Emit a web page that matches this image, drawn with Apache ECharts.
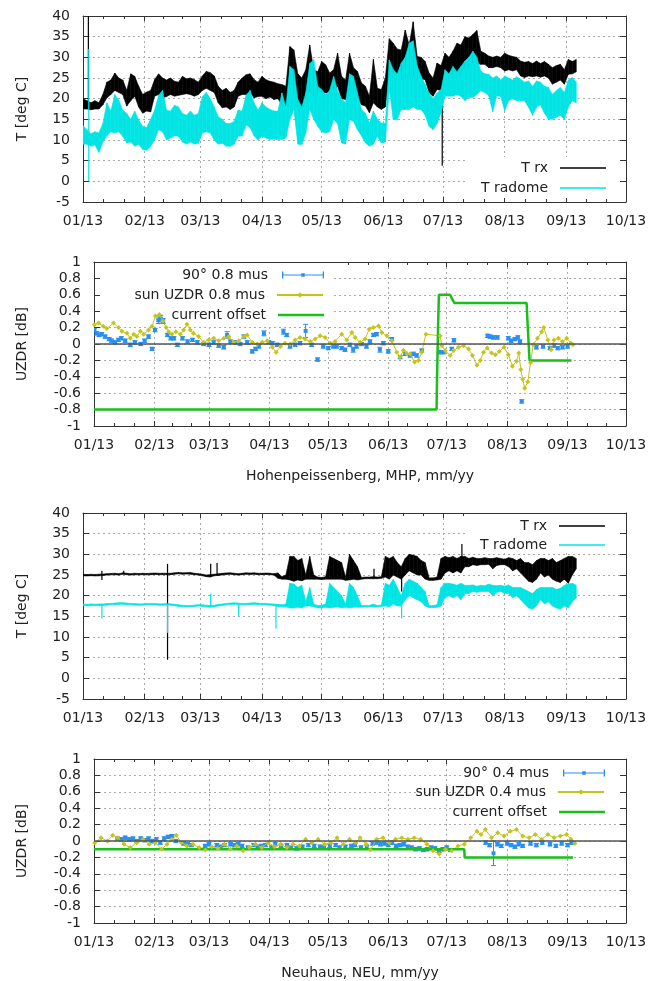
<!DOCTYPE html>
<html><head><meta charset="utf-8">
<script src="https://cdn.jsdelivr.net/npm/echarts@6/dist/echarts.min.js"></script>
<style>html,body{margin:0;padding:0;background:#fff}#c{width:657px;height:981px}</style>
</head><body><div id="c"></div>
<script>
// ---------- data (days since 2013-01-01) ----------
const STEP = 2; // temperature envelope sampled every 2 days: low / high of the diurnal band
// Hohenpeissenberg (MHP)
const mhpRxLo = [17.5,17.5,17.3,17.5,17.5,18.5,20.2,21,22,21.5, 21,18.2,19.5,20.6,18,16.5,17,16.8,20.6,21, 20.2,20.5,21,20.6,20.8,21,21.2,21,20.6,21, 22,22.5,22,21.5,19,17.8,18,17.4,18,20.6, 21,21,21.5,20.2,20.5,20.6,20,20.4,19.8,20, 18.5,18.2,23,21,18,17.5,20.6,22,20.6,21, 21.4,21.4,21.4,22,23,20,19.8,22.2,21,20.2, 18.5,18.2,16.6,19,18,17.4,18,25.4,26.2,26, 24.6,25,25.4,25.5,24.6,24.8,24.6,21.4,20.6,22.2, 22,25.4,25.4,25,24.6,26,27.5,27.5,28.7,28.5, 28.3,28.3,27.5,27.5,27.8,27.5,26.7,27,26.7,27, 25.5,25.1,25.5,25.3,25.5,25.2,25.5,25,23.5,24, 24.5,23.5,25.9,26,26.5];
const mhpRxHi = [20,19.5,19,19.5,19,21,24,24.5,26.2,25, 24.5,22,26,25.4,23,21,21.6,22,24.6,26, 25,24.5,25,24.2,24,25.4,24.8,25,24.6,24, 25.5,26.6,26.3,25.5,23,22,22.5,21.5,22,24, 25,25.8,26,24.6,24,25.4,24.6,24.2,24,23.6, 23.4,23,32.6,31.8,26,25,27,33,27,26.5, 29,28.2,26.2,27,31,25.4,24.5,31,27.5,26.6, 23.8,23,20.6,29.5,22.5,22.2,25,34.5,33.4,32, 31.8,36.6,33,38.6,30.2,30,29,26.2,25,28.6, 28,31,30,31.5,33.4,33,35,34.7,35.5,36.5, 31.5,31,30.3,30,30.3,30,31,30.5,30.2,30, 29.1,28.8,29,28.5,29.1,28.5,29,28.3,27.5,28, 28.3,27,29.5,29,29.5];
const mhpRadLo = [9,9,8.5,8.8,7,9.5,11,12,11.7,12, 10.9,9.3,9.5,8.5,9,7.7,7.5,8.5,10,12.5, 12,10,10.5,11,10.9,9.5,9,9.5,9,9.2, 11.7,12,11.7,10,9,9.2,8.5,8.5,9,10.9, 11,13.6,13,11,10,10.9,10.5,10.1,10.2,10.1, 10.1,10.5,14.9,17.4,9,8.9,11.7,17.4,15,13.3, 12,11.7,12,14.9,14,9.3,9,14.9,14.5,12.5, 11,9.3,8.5,9,10.9,9.3,9.5,22.2,15,14.9, 17.4,17.4,17.4,18,17.4,17.4,16,13.3,12.5,14, 16.6,20.6,20.6,20.6,21,20.6,19.5,20.3,20.3,21, 21.9,21.5,20.7,16.8,20.7,20.5,17.1,19.5,20,19.5, 19.5,19.5,17.9,16,17.9,18.5,16.5,15.1,15,15.5, 16,15,18,19.5,19];
const mhpRadHi = [13.5,12.5,11.5,12,11.7,14,19,17,21,19.6, 17.2,16.4,15,17,14.8,13.3,13,15,17.2,20.8, 22,17.2,17,18.4,18,16.4,16,17,16,16.4, 20.4,21.5,20,18,15.6,15,14,14,14.5,17.2, 17,20.8,22,19,17.2,19,18,17.4,17,17, 21.4,18,27.8,27,19.8,18,21.4,28.5,29.4,23, 22.2,21,22,25.4,22,20,19,26,25.4,21.4, 17.4,16.5,14.1,17,15,14.1,14,29.4,27,26, 28.6,30,33.4,34,28,25.4,23.5,21.4,20,21.4, 22.2,27,26,27.8,26.5,27.8,29.1,30,31.5,30, 26.7,26,25.9,25,25.5,24.5,25.5,25,24.5,25.3, 24.7,24,24.3,23,24.3,24,23,22.7,21,22, 22.7,21.5,24.5,25.1,24];
// single-reading spikes: day, low, high
const mhpRxSpikeDay = [2.7, 180.6], mhpRxSpikeLo = [18, 3.8], mhpRxSpikeHi = [40, 24];
const mhpRadSpikeDay = [2.9], mhpRadSpikeLo = [0], mhpRadSpikeHi = [32];

const mhpBlueDay = [0.2,1.4,2.6,4,5.7,7.8,9,10.8,12.5,14,16,18.6,21,24,26,28,29.8,31.3,33,34.3,35.5,37.7,39.4,41,42.8,45.4,48,50.5,53,56.3,59,61.4,64,66.6,68.3,70,72.5,75,76.9,78.6,81.2,82.9,84.6,87.2,89.7,91.5,94,97.2,98.9,100.6,103.2,105.7,108.6,111.7,114.7,117.6,120.2,122.8,124.5,127.1,128.8,131.3,133,134.7,137.3,139.8,141.6,143.4,145,146.7,148.5,151,152.8,157.1,159.7,162.2,163.9,165.6,168.2,177.6,179.3,183.6,184.7,202,203.3,205,207,212.6,214,216,217.5,218.6,219.5,227,230.4,234,236,238,240.4,243];
const mhpBlueVal = [0.17,0.13,0.11,0.12,0.09,0.06,0.04,0.02,0.05,0.07,0.04,-0.01,0.02,0,0.04,0.09,-0.06,0.17,0.29,0.31,0.28,0.11,0.07,0.07,-0.01,0.07,0.03,0.05,0.02,0,-0.01,0.02,-0.02,-0.04,0.11,0.03,0.02,0,0.09,0.02,-0.09,-0.06,-0.03,0.13,0.02,0.01,-0.01,0.15,0.11,-0.03,-0.01,0.01,0.16,-0.01,-0.19,-0.03,-0.05,-0.03,-0.03,-0.05,-0.07,-0.01,-0.07,-0.03,0,-0.03,0.03,0.11,0.12,-0.07,0.01,-0.09,0.06,-0.16,-0.12,-0.14,-0.12,-0.14,-0.08,-0.1,-0.1,-0.06,0.045,0.1,0.09,0.08,0.08,0.07,0.04,0.06,0.08,0.03,-0.7,-0.04,-0.03,-0.05,-0.02,-0.05,-0.04,-0.03];
const mhpBlueErr = [0.02,0.02,0.02,0.02,0.02,0.02,0.02,0.02,0.02,0.02,0.02,0.02,0.02,0.02,0.02,0.02,0.02,0.02,0.04,0.04,0.03,0.02,0.02,0.02,0.02,0.02,0.02,0.02,0.02,0.02,0.02,0.02,0.02,0.02,0.04,0.02,0.02,0.02,0.02,0.02,0.02,0.02,0.02,0.03,0.02,0.02,0.02,0.03,0.02,0.02,0.02,0.02,0.08,0.02,0.02,0.02,0.02,0.02,0.02,0.02,0.02,0.02,0.03,0.02,0.02,0.02,0.02,0.02,0.02,0.03,0.02,0.02,0.02,0.02,0.02,0.02,0.02,0.02,0.02,0.02,0.02,0.02,0.02,0.02,0.02,0.02,0.02,0.02,0.02,0.02,0.02,0.02,0.02,0.02,0.02,0.02,0.02,0.02,0.02,0.02];

const mhpSunDay = [0.2,2.3,4.8,6.5,10,12.6,14.3,16.9,18.6,20.4,22,23.8,25.5,28,29.8,31.5,33.5,35.3,37,38.3,40,42,44.3,46,47.7,49.4,51,53.7,56.3,58.8,61.4,64,66.6,69.2,71.7,74.3,76.9,78.6,81.2,83.8,86.3,88.9,91.5,93.5,95.7,98,100.6,103.2,105.7,108.3,110.9,113.5,116,118.6,121.2,123.7,127.1,129.7,132.3,134,136.6,139.1,141.2,143.4,146,147.7,150.3,152.8,155.4,157.1,158.8,160.5,162.2,164.5,166.5,168.2,170.3,177.6,178.5,180.2,182.8,184.5,187,189.6,192.2,194.2,196.5,198.2,199.9,201.8,204,206,208,210.4,212.6,214.7,216.8,218,219,220,221,222.6,224,225.4,227.6,229.7,230.8,232.9,234.6,236,238.3,240.4,242.6,244.7,245.8];
const mhpSunVal = [0.235,0.255,0.215,0.19,0.255,0.2,0.155,0.13,0.07,0.12,0.09,0.155,0.12,0.17,0.215,0.34,0.36,0.28,0.2,0.15,0.12,0.15,0.12,0.17,0.24,0.17,0.13,0.09,0.02,0.05,0.07,0.04,0.07,0.09,0.02,0.04,0.09,0.11,0.02,0,0.02,0.04,-0.04,-0.1,-0.03,0.01,0,0.05,0.08,0.06,0.03,0.06,0.1,0.08,0.01,0.03,0.12,0.05,0.14,0.08,0.02,0.06,0.18,0.2,0.22,0.14,0.1,0.04,-0.1,-0.16,-0.08,-0.12,-0.12,-0.22,-0.2,-0.1,0.12,0.1,-0.02,-0.08,-0.14,-0.08,-0.04,-0.02,-0.06,-0.14,-0.26,-0.2,-0.1,-0.05,-0.11,-0.13,-0.09,-0.04,-0.13,-0.27,-0.21,-0.11,-0.31,-0.43,-0.54,-0.46,-0.23,-0.01,0.07,0.15,0.2,0.05,-0.07,0.05,0.07,0.03,0.07,0.01,-0.01];

const mhpOffDay = [0,175.8,176,176.6,177,182.7,184.9,222,222.3,223.5,245];
const mhpOffVal = [-0.8,-0.8,-0.45,0.25,0.6,0.6,0.5,0.5,0.34,-0.2,-0.2];

// Neuhaus (NEU)
const neuRxLo = [24.8,24.8,24.9,24.8,24.8,24.9,25,25.1,25.1,25, 25.2,25.1,25,25.1,25.1,25.1,25.1,25.1,25.2,25.1, 25.1,25.1,25.1,25.2,25.3,25.2,25.3,25.2,25.1,25, 24.8,24.6,24.5,24.8,24.9,25,25.1,25.2,25.1,25, 25.1,25.2,25.2,25.2,25.1,25.1,25.2,25.1,25,24.2, 24,24,23.8,23.5,23.8,23.6,24,24,24,24, 23.9,24,24,24,24,24,23.7,23.8,24,23.8, 24,24.1,24.1,24.1,24.1,24.2,24.5,24,25,24.5, 24,25,26,25.5,25,25,24,23.7,23.7,23.8, 24,25.5,26,25.5,26,25.5,27,27,27.5,27.3, 27.5,27.5,27.6,26.5,27.3,27.5,27.5,27,26,26.5, 25.5,24.5,23.5,23.2,24,25.5,24.5,25,24,23.5, 23.2,24,23,25,26.5];
const neuRxHi = [25.2,25.1,25.1,25.1,25.2,25.2,25.3,25.3,25.4,25.3, 25.5,25.4,25.3,25.4,25.3,25.4,25.3,25.4,25.4,25.4, 25.4,25.4,25.4,25.5,25.6,25.5,25.5,25.6,25.4,25.3, 25.2,25,25.1,25.2,25.3,25.4,25.5,25.5,25.4,25.3, 25.4,25.5,25.4,25.5,25.4,25.4,25.4,25.4,25.3,25.5, 24.6,25,29.5,29.5,28.5,29,25,29.5,25,24.5, 24.4,24.6,29.5,29,28.5,28,24.5,30,28.5,27, 24.4,24.5,24.5,24.6,24.5,24.6,29.5,29,29.5,28, 27,29,30,29.8,29.5,28.5,28,24.3,24.3,24.5, 29,29.5,29.2,29.5,29,29.5,29.5,29,29.3,29, 29,29.2,29,29,29.2,29,28.8,29.2,29,28.5, 29,28,28,27.5,28.5,29,29,28.5,29,28, 28.5,29,29.5,29.5,29];
const neuRadLo = [17.6,17.5,17.6,17.6,17.6,17.6,17.7,17.8,17.8,17.9, 17.9,17.8,17.8,17.7,17.7,17.7,17.8,17.8,17.8,17.7, 17.7,17.7,17.7,17.6,17.4,17.3,17.3,17.3,17.4,17.5, 17.4,17.3,17.2,17.3,17.5,17.6,17.8,17.9,17.9,17.9, 17.8,17.8,17.9,17.9,17.8,17.8,17.8,17.7,17.6,17.4, 17.3,17.3,17,17,17.2,17,17.5,17.5,17.3,17, 17,17.2,17,17.2,17.3,17,17.2,17,17.2,17.2, 17.2,17.3,17.3,17.3,17.3,17.4,17.5,17.3,18,17.5, 17.5,19,20,19.5,19,18.5,17.5,17.1,17.1,17.2, 17.5,19.5,20,19.5,20,19,20.5,20.5,21,20.8, 21,21,21,20,20.8,21,20.5,20.5,19.5,20, 19,18,17,16.8,17.5,19,18,18.5,17.5,17, 16.8,17.5,17,18.5,19.5];
const neuRadHi = [18,17.9,18,17.9,18,18,18.1,18.1,18.2,18.3, 18.3,18.2,18.1,18.1,18,18,18.1,18.1,18.1,18, 18,18.1,18,17.9,17.8,17.7,17.6,17.6,17.7,17.8, 17.8,17.7,17.6,17.7,17.9,18,18.1,18.2,18.3,18.2, 18.1,18.1,18.2,18.3,18.2,18.1,18.1,18,18,17.9, 17.8,18,23,22.8,22,22.5,18.5,22,18,17.6, 17.7,18,23,22,21,20,18,23,22,20, 17.6,17.6,17.6,18,17.6,17.7,23,22.5,24,22, 20,23,24,23.5,23,22,21,17.6,17.6,17.8, 22,23,23,22.8,22.5,23,22.5,22.5,22.6,22.3, 22.5,22.4,22.8,22.5,22.4,22.5,22.3,22.6,22,22, 22,21.5,21,20.5,21.5,22,22,22,22,21.5, 21.8,22.5,22.8,23,22.5];
const neuRxSpikeDay = [9.5, 20.5, 42.5, 64.2, 67.4, 146.3, 160.2, 190.5], neuRxSpikeLo = [23.8, 25.2, 4.5, 24.5, 24.8, 24.3, 21, 28], neuRxSpikeHi = [26, 26, 27.7, 27.7, 27.9, 26.5, 25, 32.5];
const neuRadSpikeDay = [9.5, 42.5, 64.2, 78.3, 97, 160.2], neuRadSpikeLo = [14.5, 11, 17.3, 15, 12, 14.5], neuRadSpikeHi = [17.7, 17.8, 20.5, 17.9, 17.7, 19];

const neuBlueDay = [12,14,16,18,20,22,24,26,28,30,32,34,36,38,40,42,46,48,50,57,59,63,65,67,70,72,74,76,79,82,84,86,88,91,93,96,99,101,104,107,110,113,116,118,121,124,126,129,132,134,137,140,143,145,147,149,151,153,155,157,159,161,163,165,167,169,171,173,175,177,179,181,183,201,203,205,207,209,212,214,216,218,220,224,227,230,234,237,240,243,245];
const neuBlueVal = [0.03,0.02,0.04,0.02,0.03,0,0.03,0.01,0.03,0,0.02,-0.02,0.03,0.05,0.06,0,-0.03,-0.04,-0.05,-0.06,-0.04,-0.05,-0.07,-0.05,-0.04,-0.05,-0.04,-0.06,-0.08,-0.05,-0.07,-0.06,-0.05,-0.08,-0.04,-0.06,-0.05,-0.08,-0.09,-0.07,-0.05,-0.06,-0.07,-0.08,-0.06,-0.05,-0.08,-0.07,-0.06,-0.05,-0.08,-0.07,-0.03,-0.02,-0.04,-0.03,-0.05,-0.02,-0.06,-0.05,-0.04,-0.07,-0.08,-0.1,-0.09,-0.11,-0.1,-0.08,-0.09,-0.12,-0.1,-0.08,-0.11,-0.02,-0.05,-0.15,-0.04,-0.06,-0.03,-0.05,-0.07,-0.04,-0.06,-0.03,-0.05,-0.02,-0.04,-0.06,-0.03,-0.05,-0.02];
const neuBlueErr = [0.02,0.02,0.02,0.02,0.02,0.02,0.02,0.02,0.02,0.02,0.02,0.02,0.02,0.02,0.02,0.02,0.02,0.02,0.02,0.02,0.02,0.02,0.02,0.02,0.02,0.02,0.02,0.02,0.02,0.02,0.02,0.02,0.02,0.02,0.02,0.02,0.02,0.02,0.02,0.02,0.02,0.02,0.02,0.02,0.02,0.02,0.02,0.02,0.02,0.02,0.02,0.02,0.02,0.02,0.02,0.02,0.02,0.02,0.02,0.02,0.02,0.02,0.02,0.02,0.02,0.02,0.02,0.02,0.02,0.02,0.02,0.02,0.02,0.02,0.02,0.15,0.02,0.02,0.02,0.02,0.02,0.02,0.02,0.02,0.02,0.02,0.02,0.02,0.02,0.02,0.02];

const neuSunDay = [0.4,3.6,6.9,9.6,12.2,15.4,18.6,21.9,25.1,28.3,31.5,34.7,37.5,40,42.2,44.8,47.6,50.8,54,57.2,60.4,63.6,66.9,70,73.3,76.5,79.7,82.9,86.1,89.4,92.6,95.8,99,102.2,105.4,108.6,111.9,115,118.3,121.5,124.7,127.9,131.1,134.3,136.5,139.7,141.8,145,148.3,151.5,154.7,157.9,161.1,164.3,167.6,170.8,174,177.2,180.4,183.6,186.8,190,193.3,196.5,198.6,200.8,204,207.2,210.4,213.6,216.8,220,223.3,226.5,229.7,232.9,236.1,239.3,242.5,244.7,246.8];
const neuSunVal = [-0.02,0.04,0,0.07,0.04,-0.04,-0.08,-0.02,0.02,-0.04,-0.02,-0.1,-0.04,0.02,0.07,-0.02,-0.06,-0.04,-0.08,-0.11,-0.07,-0.09,-0.04,-0.1,-0.06,-0.12,-0.08,-0.04,-0.08,-0.02,-0.07,-0.04,-0.08,-0.04,-0.06,0.02,-0.02,0.02,-0.04,-0.02,0.04,-0.04,0.02,-0.02,0.04,-0.04,-0.11,0.02,0.04,-0.02,0.02,0.04,0.02,0.04,0.02,-0.04,-0.12,-0.16,-0.1,-0.12,-0.06,-0.04,0.04,0.12,0.08,0.14,0.04,0.1,0.06,0.12,0.14,0.06,0.04,0.08,0.02,0.08,0.04,0.06,0.08,0.02,-0.03];

const neuOffDay = [0,190,190.2,245.8];
const neuOffVal = [-0.1,-0.1,-0.2,-0.2];

// ---------- helpers ----------
const DAY = 864e5, D0 = Date.UTC(2013,0,1);
const XMIN = D0, XMAX = Date.UTC(2013,9,1);
const T = d => D0 + d*DAY;
const FONT = 'DejaVu Sans', TXT = '#222', AX = '#333', GRID = '#aaa';
const C_RX = '#000000', C_RAD = '#00e4e4', C_BLUE = '#2a8ff0', C_SUN = '#c4c41a', C_OFF = '#18c018';

// band segments: [t_i, t_i+1, lo_i, hi_i, lo_i+1, hi_i+1]
function band(lo, hi){ const o=[]; for(let i=0;i<lo.length-1;i++) o.push([T(i*STEP), T((i+1)*STEP), lo[i], hi[i], lo[i+1], hi[i+1]]); return o; }
function spikes(ds, lo, hi){ return ds.map((d,i)=>[T(d), lo[i], hi[i]]); }
function pairs(ds, vs){ return ds.map((d,i)=>[T(d), vs[i]]); }
function triples(ds, vs, es){ return ds.map((d,i)=>[T(d), vs[i], es[i]]); }
const pad = n => (n<10?'0':'')+n;
const fmtMonth = v => { const d=new Date(v); return pad(d.getUTCMonth()+1)+'/'+String(d.getUTCFullYear()).slice(2); };
const txt = {fontFamily:FONT, fontSize:14, color:TXT};

const grids = [
  {left:83, right:31, top:16, height:186},
  {left:94, right:31, top:262, height:164},
  {left:83, right:31, top:513, height:186},
  {left:94, right:31, top:759, height:165}
];
const xAxis = [], yAxis = [];
const xNames = ['', 'Hohenpeissenberg, MHP, mm/yy', '', 'Neuhaus, NEU, mm/yy'];
grids.forEach((g, gi) => {
  const base = {type:'time', gridIndex:gi, min:XMIN, max:XMAX, minInterval:28*DAY, maxInterval:31*DAY, splitNumber:9,
    axisLine:{show:true, onZero:false, lineStyle:{color:AX, width:1}},
    axisTick:{show:true, inside:true, length:5, lineStyle:{color:AX}},
    minorTick:{show:true, splitNumber:3, length:3, lineStyle:{color:AX}}};
  xAxis.push(Object.assign({}, base, {position:'bottom',
    splitLine:{show:true, lineStyle:{color:GRID, type:[2,3], width:1}},
    axisLabel:Object.assign({formatter:fmtMonth, margin:12, showMinLabel:true, showMaxLabel:true, alignMinLabel:'center', alignMaxLabel:'center', hideOverlap:false}, txt),
    name:xNames[gi], nameLocation:'middle', nameGap:43, nameTextStyle:txt}));
  xAxis.push(Object.assign({}, base, {position:'top', splitLine:{show:false}, axisLabel:{show:false}}));
  const isT = gi % 2 === 0;
  const yb = {type:'value', gridIndex:gi, min:isT?-5:-1, max:isT?40:1, interval:isT?5:0.2,
    axisLine:{show:true, onZero:false, lineStyle:{color:AX, width:1}},
    axisTick:{show:true, inside:true, length:6, lineStyle:{color:AX}}};
  yAxis.push(Object.assign({}, yb, {position:'left',
    splitLine:{show:true, lineStyle:{color:GRID, type:[2,3], width:1}},
    axisLabel:Object.assign({margin:13, formatter:v => String(+v.toFixed(1))}, txt),
    name:isT?'T [deg C]':'UZDR [dB]', nameLocation:'middle', nameGap:isT?54:65, nameTextStyle:txt}));
  yAxis.push(Object.assign({}, yb, {position:'right', splitLine:{show:false}, axisLabel:{show:false}}));
});

function bandRender(color){
  return function(params, api){
    const pt = (t, lo, hi) => {
      const a = api.coord([t, hi]), b = api.coord([t, lo]);
      let ya = a[1], yb = b[1];
      if (yb - ya < 1.4) { const m = (ya + yb)/2; ya = m - 0.7; yb = m + 0.7; }
      return [a[0], ya, yb];
    };
    const A = pt(api.value(0), api.value(2), api.value(3));
    const B = pt(api.value(1), api.value(4), api.value(5));
    return {type:'polygon', shape:{points:[[A[0],A[1]],[B[0],B[1]],[B[0],B[2]],[A[0],A[2]]]},
      style:{fill:color, stroke:color, lineWidth:0.6}};
  };
}
function spikeRender(color){
  return function(params, api){
    const a = api.coord([api.value(0), api.value(2)]), b = api.coord([api.value(0), api.value(1)]);
    return {type:'line', shape:{x1:a[0], y1:a[1], x2:b[0], y2:b[1]}, style:{stroke:color, lineWidth:1.2}};
  };
}
function errRender(params, api){
  const x = api.value(0), y = api.value(1), e = api.value(2);
  const p = api.coord([x,y]), lo = api.coord([x,y-e]), hi = api.coord([x,y+e]);
  const st = {stroke:C_BLUE, lineWidth:1};
  return {type:'group', children:[
    {type:'line', shape:{x1:p[0],y1:hi[1],x2:p[0],y2:lo[1]}, style:st},
    {type:'line', shape:{x1:p[0]-2.5,y1:hi[1],x2:p[0]+2.5,y2:hi[1]}, style:st},
    {type:'line', shape:{x1:p[0]-2.5,y1:lo[1],x2:p[0]+2.5,y2:lo[1]}, style:st},
    {type:'rect', shape:{x:p[0]-2,y:p[1]-2,width:4,height:4}, style:{fill:C_BLUE}}
  ]};
}

const zeroLine = {silent:true, symbol:'none', label:{show:false}, lineStyle:{color:'#555', width:1.5, type:'solid'}, data:[{yAxis:0}]};
const lineBase = {type:'line', symbol:'none', animation:false, clip:true};
const customBase = (name, xi, color, render, data, ydims) => ({type:'custom', name:name, xAxisIndex:xi, yAxisIndex:xi, renderItem:render, data:data,
  encode:{x: ydims.x, y: ydims.y}, itemStyle:{color:color}, clip:true, animation:false});
const bandSeries = (name, xi, lo, hi, color) => customBase(name, xi, color, bandRender(color), band(lo, hi), {x:[0,1], y:[2,3,4,5]});
const spikeSeries = (name, xi, ds, lo, hi, color) => customBase(name, xi, color, spikeRender(color), spikes(ds, lo, hi), {x:[0], y:[1,2]});
const errSeries = (name, xi, ds, vs, es) => customBase(name, xi, C_BLUE, errRender, triples(ds, vs, es), {x:[0], y:[1]});

const series = [
  bandSeries('T rx', 0, mhpRxLo, mhpRxHi, C_RX),
  spikeSeries('T rx', 0, mhpRxSpikeDay, mhpRxSpikeLo, mhpRxSpikeHi, C_RX),
  bandSeries('T radome', 0, mhpRadLo, mhpRadHi, C_RAD),
  spikeSeries('T radome', 0, mhpRadSpikeDay, mhpRadSpikeLo, mhpRadSpikeHi, C_RAD),
  errSeries('90° 0.8 mus', 2, mhpBlueDay, mhpBlueVal, mhpBlueErr),
  Object.assign({}, lineBase, {name:'sun UZDR 0.8 mus', xAxisIndex:2, yAxisIndex:2, data:pairs(mhpSunDay, mhpSunVal), symbol:'diamond', symbolSize:5, showSymbol:true, lineStyle:{color:C_SUN, width:1}, itemStyle:{color:C_SUN}, markLine:zeroLine}),
  Object.assign({}, lineBase, {name:'current offset', xAxisIndex:2, yAxisIndex:2, data:pairs(mhpOffDay, mhpOffVal), lineStyle:{color:C_OFF, width:2.5}, itemStyle:{color:C_OFF}}),
  bandSeries('T rx', 4, neuRxLo, neuRxHi, C_RX),
  spikeSeries('T rx', 4, neuRxSpikeDay, neuRxSpikeLo, neuRxSpikeHi, C_RX),
  bandSeries('T radome', 4, neuRadLo, neuRadHi, C_RAD),
  spikeSeries('T radome', 4, neuRadSpikeDay, neuRadSpikeLo, neuRadSpikeHi, C_RAD),
  errSeries('90° 0.4 mus', 6, neuBlueDay, neuBlueVal, neuBlueErr),
  Object.assign({}, lineBase, {name:'sun UZDR 0.4 mus', xAxisIndex:6, yAxisIndex:6, data:pairs(neuSunDay, neuSunVal), symbol:'diamond', symbolSize:5, showSymbol:true, lineStyle:{color:C_SUN, width:1}, itemStyle:{color:C_SUN}, markLine:zeroLine}),
  Object.assign({}, lineBase, {name:'current offset', xAxisIndex:6, yAxisIndex:6, data:pairs(neuOffDay, neuOffVal), lineStyle:{color:C_OFF, width:2.5}, itemStyle:{color:C_OFF}})
];

const ERR_ICON = 'path://M0,0h1.5v8h-1.5z M0,3.3h48v1.4h-48z M46.5,0h1.5v8h-1.5z M22,2h4v4h-4z';
function leg(name, right, cy, icon, ih){
  return {show:true, data:[icon?{name:name, icon:icon}:name], right:right, top:cy-8, orient:'vertical', align:'right',
    itemWidth:46, itemHeight:ih || 7, padding:0, selectedMode:false, z:5,
    textStyle:Object.assign({lineHeight:16, padding:[0,7,0,0]}, txt)};
}
const legend = [
  leg('T rx', 51, 168, 'rect', 1.5), leg('T radome', 51, 188, 'rect', 1.5),
  leg('90° 0.8 mus', 333, 275, ERR_ICON), leg('sun UZDR 0.8 mus', 333, 295), leg('current offset', 333, 315, 'rect', 2.5),
  leg('T rx', 52, 526, 'rect', 1.5), leg('T radome', 52, 545, 'rect', 1.5),
  leg('90° 0.4 mus', 52, 773, ERR_ICON), leg('sun UZDR 0.4 mus', 52, 792), leg('current offset', 52, 812, 'rect', 2.5)
];
// the legend panels have an opaque white background like the original key boxes
const graphic = [
  {type:'rect', shape:{x:466, y:157, width:154, height:41}, style:{fill:'#fff'}, z:1, silent:true},
  {type:'rect', shape:{x:100, y:263, width:234, height:61}, style:{fill:'#fff'}, z:1, silent:true},
  {type:'rect', shape:{x:466, y:514, width:154, height:39}, style:{fill:'#fff'}, z:1, silent:true},
  {type:'rect', shape:{x:466, y:760, width:154, height:61}, style:{fill:'#fff'}, z:1, silent:true}
];

const chart = echarts.init(document.getElementById('c'), null, {renderer:'canvas'});
chart.setOption({animation:false, useUTC:true, backgroundColor:'#fff', grid:grids, xAxis:xAxis, yAxis:yAxis, series:series, legend:legend, graphic:graphic});
</script></body></html>
